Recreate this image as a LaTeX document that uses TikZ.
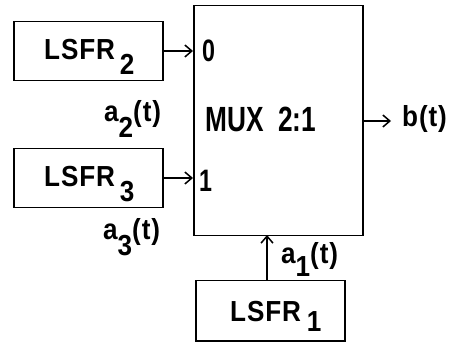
\documentclass[tikz,border=0pt]{standalone}
\usepackage{fontspec}
\setmainfont{Liberation Sans}
\newfontfamily\cndfont{Liberation Sans}[FakeStretch=0.75]
\newfontfamily\midfont{Liberation Sans}[FakeStretch=0.9,LetterSpace=3]
\usetikzlibrary{arrows.meta}
\begin{document}
\begin{tikzpicture}[x=1pt,y=-1pt,
  blk/.style={draw,line width=1.5pt,inner sep=0pt,anchor=north west},
  lsfr/.style={inner sep=0pt,anchor=base west,font=\midfont\fontsize{29}{31}\selectfont\bfseries},
  sig/.style={inner sep=0pt,anchor=base west,font=\midfont\fontsize{29}{31}\selectfont\bfseries},
  pin/.style={inner sep=0pt,anchor=base west,font=\cndfont\fontsize{31}{33}\selectfont\bfseries},
  conn/.style={line width=1.5pt,-{Straight Barb[length=7pt,width=12pt,line width=1.5pt]}}]
\useasboundingbox (0,0) rectangle (452,344);
\node[blk,minimum width=149pt,minimum height=59pt] (l2) at (13,21) {};
\node[blk,minimum width=149pt,minimum height=59pt] (l3) at (13,148) {};
\node[blk,minimum width=169pt,minimum height=230pt] (mux) at (193,5) {};
\node[blk,minimum width=149pt,minimum height=60pt] (l1) at (195,280) {};
\node[lsfr] (t2) at (44,60) {LSFR\kern5pt\raisebox{-15pt}{2}};
\node[lsfr] (t3) at (44,187) {LSFR\kern5pt\raisebox{-15pt}{3}};
\node[lsfr] (t1) at (230,321) {LSFR\kern6pt\raisebox{-10pt}{1}};
\coordinate (in0) at (193,51);
\coordinate (in1) at (193,178);
\coordinate (sel) at (267,235);
\coordinate (out) at (391,121);
\draw[conn] (l2.east |- in0) -- (in0);
\draw[conn] (l3.east |- in1) -- (in1);
\draw[conn] (l1.north -| sel) -- (sel);
\draw[conn] (mux.east |- out) -- (out);
\node[pin] (p0) at (202,62) {0};
\node[pin] (p1) at (199,192) {1};
\node[pin,font=\cndfont\fontsize{35}{37}\selectfont\bfseries] (m) at (205,132) {MUX\ \ 2:1};
\node[sig] (b) at (402,127) {b(t)};
\node[sig] (a2) at (104,122) {a\raisebox{-16pt}{2}(t)};
\node[sig] (a3) at (103,240) {a\raisebox{-16pt}{3}(t)};
\node[sig] (a1) at (281,264) {a\raisebox{-13pt}{1}(t)};
\end{tikzpicture}
\end{document}
